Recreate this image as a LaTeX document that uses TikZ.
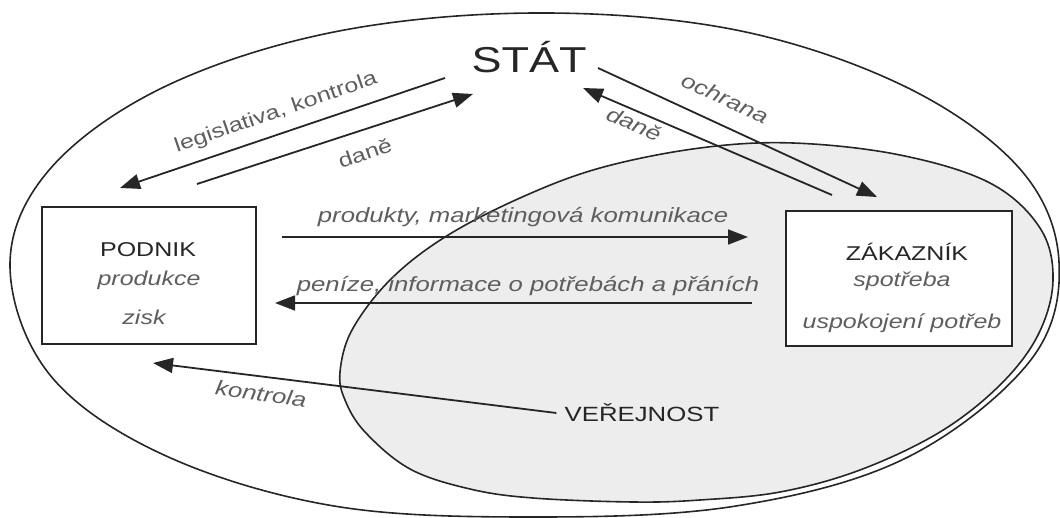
\documentclass[tikz,border=0pt]{standalone}
\usepackage{fontspec}
\setmainfont{Liberation Sans}[FakeStretch=1.25]
\usetikzlibrary{arrows.meta}
\definecolor{ink}{HTML}{262626}
\definecolor{lbl}{HTML}{5E5E5E}
\definecolor{pub}{HTML}{EDEDED}
\begin{document}
\begin{tikzpicture}[x=0.5pt,y=-0.5pt,
  conn/.style={draw=ink, line width=0.9pt, -{Triangle[length=10pt,width=7.5pt]}},
  rim/.style={draw=ink, line width=0.8pt},
  boxn/.style={draw=ink, fill=white, line width=0.9pt, inner sep=0pt},
  title/.style={text=ink, font=\fontsize{10}{12}\selectfont, inner sep=0pt},
  big/.style={text=ink, font=\fontsize{18}{20}\selectfont, inner sep=0pt},
  sub/.style={text=lbl, font=\fontsize{10}{12}\selectfont\itshape, inner sep=0pt},
  lab/.style={text=lbl, font=\fontsize{10}{12}\selectfont, inner sep=0pt},
  ilab/.style={text=lbl, font=\fontsize{10.3}{12}\selectfont\itshape, inner sep=0pt},
  pubshape/.style={},
]
\useasboundingbox (0,0) rectangle (1060,518);
\def\pubpts{(340,372) (352,330) (390,280) (445,237) (520,198) (600,168) (700,148)
  (793,143) (900,155) (990,183) (1040,228) (1053,280) (1038,335) (1000,385)
  (940,432) (860,470) (780,492) (700,500) (633,502) (533,498)
  (470,489) (410,469) (365,432) (345,400)}
% public (inner) region
\path[fill=pub] plot[smooth cycle, tension=0.6] coordinates {\pubpts};
% outer region (state)
\draw[rim] plot[smooth cycle, tension=0.6] coordinates {
  (10,265) (50,169) (164,87) (334,32) (535,13) (736,30) (906,87) (1020,169)
  (1059,262) (1030,361) (906,458) (736,506) (535,517) (334,506) (164,455)
  (50,375)};
% inner outline
\draw[rim] plot[smooth cycle, tension=0.6] coordinates {\pubpts};

% boxes
\node[boxn, minimum width=107pt, minimum height=68.5pt] (podnik) at (149,275.5) {};
\node[boxn, minimum width=113pt, minimum height=67.5pt] (zakaznik) at (899,278.5) {};

% texts
\node[big] (stat) at (529,57) {STÁT};
\node[title] (podnikT) at (148,250) {PODNIK};
\node[sub] (produkce) at (149,280) {produkce};
\node[sub] (zisk) at (144,317) {zisk};
\node[title] (zakT) at (907,252) {ZÁKAZNÍK};
\node[sub] (spotreba) at (902,281) {spotřeba};
\node[sub] (uspok) at (902,323) {uspokojení potřeb};
\node[title, font=\fontsize{10.3}{12}\selectfont] (verej) at (642,413) {VEŘEJNOST};

% arrow end points
\coordinate (legA) at (445,78);  \coordinate (legB) at (120,188);
\coordinate (danA) at (197,184); \coordinate (danB) at (473,94);
\coordinate (ochA) at (598,68);  \coordinate (ochB) at (877,197);
\coordinate (dzA) at (832,195);  \coordinate (dzB) at (583,88);
\coordinate (proA) at (282,237); \coordinate (proB) at (748,237);
\coordinate (penA) at (752,303); \coordinate (penB) at (275,303);
\coordinate (konB) at (153,363);

\draw[conn] (legA) -- (legB);
\draw[conn] (danA) -- (danB);
\draw[conn] (ochA) -- (ochB);
\draw[conn] (dzA) -- (dzB);
\draw[conn] (proA) -- (proB);
\draw[conn] (penA) -- (penB);
\draw[conn] (verej.west) ++(-8,0) coordinate (konA) -- (konB);

% labels
\node[lab, rotate=19] (lLeg) at (276,113) {legislativa, kontrola};
\node[lab, rotate=19] (lDanL) at (365,153) {daně};
\node[ilab, rotate=-25] (lOch) at (725,98) {ochrana};
\node[ilab, rotate=-24] (lDanR) at (634,124) {daně};
\node[ilab] (lPro) at (523,217) {produkty, marketingová komunikace};
\node[ilab] (lPen) at (528,286) {peníze, informace o potřebách a přáních};
\node[ilab, rotate=-8] (lKon) at (261,394) {kontrola};
\end{tikzpicture}
\end{document}
